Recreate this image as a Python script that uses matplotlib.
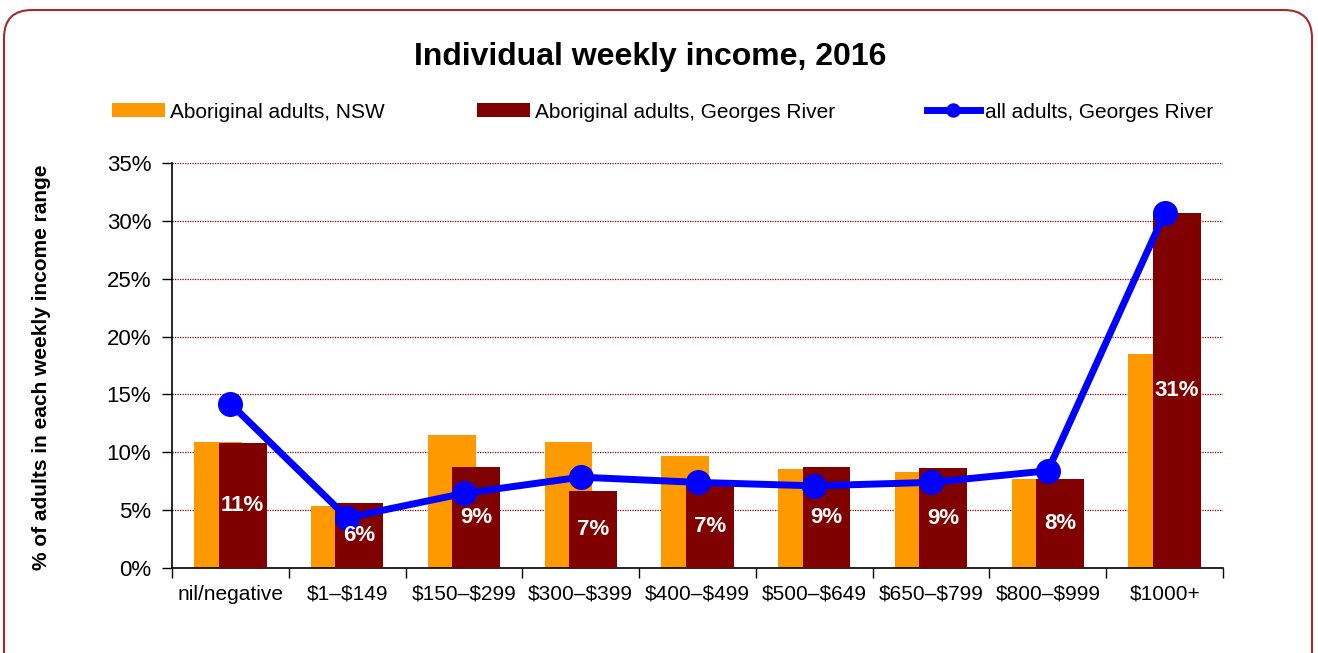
import numpy as np
import matplotlib
matplotlib.use('Agg')
import matplotlib.pyplot as plt
from matplotlib.patches import FancyBboxPatch
from matplotlib.transforms import IdentityTransform
from matplotlib.ticker import FixedLocator, FuncFormatter

plt.rcParams['font.family'] = ['Liberation Sans', 'DejaVu Sans']
plt.rcParams['text.parse_math'] = False

categories = ['nil/negative', '$1–$149', '$150–$299', '$300–$399', '$400–$499',
              '$500–$649', '$650–$799', '$800–$999', '$1000+']
nsw_aboriginal = [10.9, 5.4, 11.5, 10.9, 9.7, 8.55, 8.3, 7.7, 18.5]
gr_aboriginal = [10.8, 5.6, 8.7, 6.65, 7.2, 8.7, 8.6, 7.7, 30.65]
gr_all = [14.2, 4.35, 6.45, 7.85, 7.4, 7.1, 7.4, 8.4, 30.65]

orange = '#ff9900'
maroon = '#800000'
blue = '#0000ff'

fig = plt.figure(figsize=(13.18, 6.53), dpi=100)
ax = fig.add_axes([172/1318, 85/653, (1223-172)/1318, (568-163)/653])

x = np.arange(len(categories))
w = 0.41
b1 = ax.bar(x - 0.105, nsw_aboriginal, w, color=orange, label='Aboriginal adults, NSW', zorder=2)
b2 = ax.bar(x + 0.105, gr_aboriginal, w, color=maroon, label='Aboriginal adults, Georges River', zorder=3)
ln, = ax.plot(x, gr_all, color=blue, lw=5, marker='o', markersize=17,
              label='all adults, Georges River', zorder=4)
labels = ax.bar_label(b2, fmt='%.0f%%', label_type='center', color='white',
                      fontsize=16, fontweight='bold')
for t in labels:
    t.set_zorder(6)

ax.set_xlim(-0.5, len(categories) - 0.5)
ax.set_ylim(0, 35)
ax.set_yticks(np.arange(0, 36, 5))
ax.yaxis.set_major_formatter(FuncFormatter(lambda v, p: f'{v:.0f}%'))
ax.set_xticks(x)
ax.set_xticklabels(categories)
ax.xaxis.set_minor_locator(FixedLocator(np.arange(-0.5, len(categories), 1)))
ax.tick_params(axis='x', which='major', length=0, pad=12, labelsize=15)
ax.tick_params(axis='x', which='minor', length=7, width=1)
ax.tick_params(axis='y', length=7, width=1, pad=8, labelsize=16)

ax.grid(axis='y', color='#8b0000', linestyle=(0, (1, 1)), linewidth=0.9, zorder=0)
ax.set_axisbelow(True)
for s in ['top', 'right']:
    ax.spines[s].set_visible(False)
for s in ['left', 'bottom']:
    ax.spines[s].set_linewidth(1.2)

fig.text(650/1318, 1 - 57/653, 'Individual weekly income, 2016', ha='center', va='center',
         fontsize=23, fontweight='bold')
fig.text(42/1318, 1 - 367/653, '% of adults in each weekly income range', ha='center', va='center',
         rotation=90, fontsize=15, fontweight='bold')

fig.legend([b1, b2, ln], [b1.get_label(), b2.get_label(), ln.get_label()],
           loc='center left', bbox_to_anchor=(112/1318, 1 - 112/653), ncol=3, frameon=False,
           fontsize=15, handlelength=2.55, handleheight=0.67, handletextpad=0.25,
           columnspacing=4.4, borderpad=0, borderaxespad=0, markerscale=0.55)

border = FancyBboxPatch((4, -60), 1308, 653 - 10 + 60, boxstyle='round,pad=0,rounding_size=28',
                        transform=IdentityTransform(), facecolor='none', edgecolor='#a52a2a',
                        linewidth=1.5)
fig.add_artist(border)

fig.savefig('out.png', dpi=100)
